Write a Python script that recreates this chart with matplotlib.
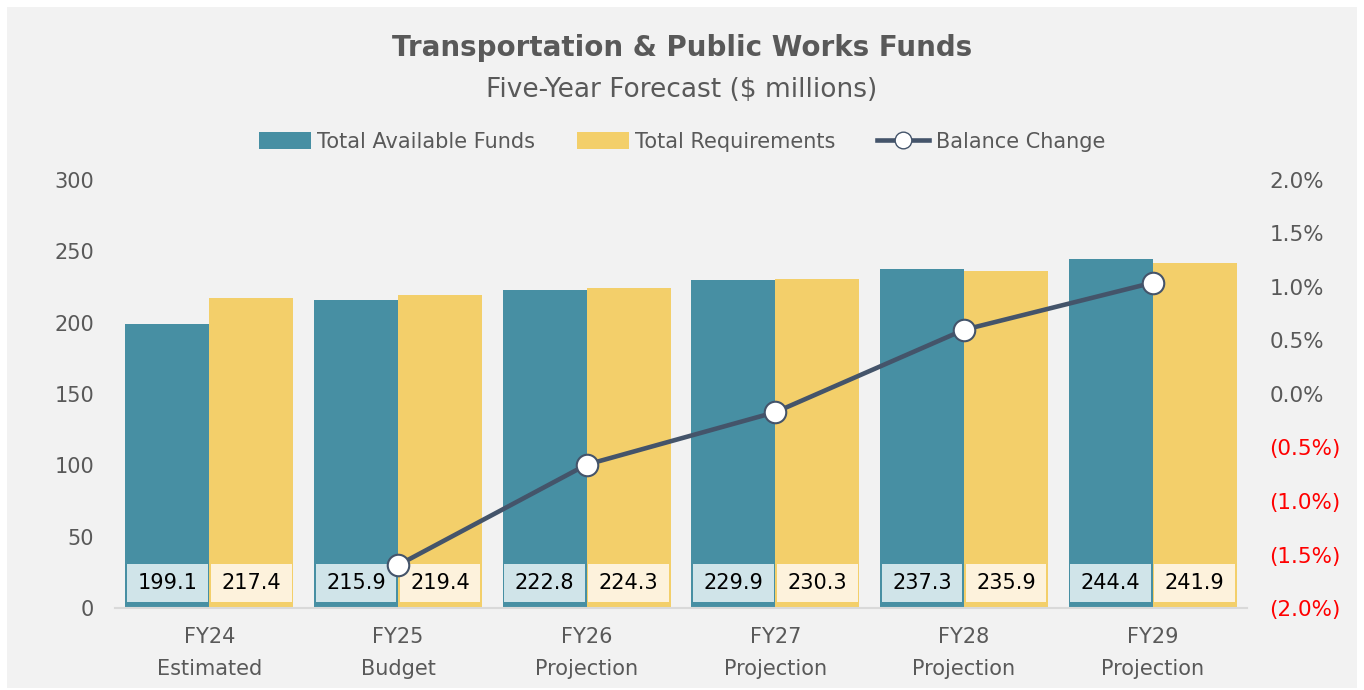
import matplotlib
matplotlib.use("Agg")
import matplotlib.pyplot as plt
import numpy as np
from matplotlib.patches import Rectangle
from matplotlib.lines import Line2D
from matplotlib.patches import Patch
from matplotlib.ticker import FuncFormatter

categories = ["FY24\nEstimated", "FY25\nBudget", "FY26\nProjection",
              "FY27\nProjection", "FY28\nProjection", "FY29\nProjection"]
available = [199.1, 215.9, 222.8, 229.9, 237.3, 244.4]
requirements = [217.4, 219.4, 224.3, 230.3, 235.9, 241.9]
balance_change = [np.nan, -1.60, -0.66, -0.17, 0.60, 1.04]  # percent

TEAL = "#478fa3"
YELLOW = "#f3cf6a"
TEAL_LIGHT = "#d0e4e9"
YELLOW_LIGHT = "#fdf2dc"
LINE = "#44546a"
GRAY = "#595959"
BG = "#f2f2f2"

plt.rcParams['font.family'] = ['DejaVu Sans']

fig = plt.figure(figsize=(13.64, 6.90), dpi=100, facecolor="white")
fig.patches.append(Rectangle((7/1364, 2/690), 1350/1364, 681/690,
                             transform=fig.transFigure, facecolor=BG,
                             edgecolor="none", zorder=-10))

ax = fig.add_axes([115/1364, 1-608/690, 1132/1364, 428/690])
ax.set_facecolor("none")
x = np.arange(len(categories))
bw = 0.445
off = bw/2
ax.bar(x-off, available, bw, color=TEAL, zorder=2)
ax.bar(x+off, requirements, bw, color=YELLOW, zorder=2)

# label boxes
box_bottom, box_top = 4.2, 30.8
ax.bar(x-off, box_top-box_bottom, bw*0.96, bottom=box_bottom, color=TEAL_LIGHT, zorder=3)
ax.bar(x+off, box_top-box_bottom, bw*0.96, bottom=box_bottom, color=YELLOW_LIGHT, zorder=3)
for i in range(len(categories)):
    ax.text(x[i]-off, (box_bottom+box_top)/2, f"{available[i]:.1f}", ha="center", va="center",
            fontsize=15, color="black", zorder=4)
    ax.text(x[i]+off, (box_bottom+box_top)/2, f"{requirements[i]:.1f}", ha="center", va="center",
            fontsize=15, color="black", zorder=4)

ax.set_xlim(-0.5, len(categories)-0.5)
ax.set_ylim(0, 300)
ax.set_yticks(np.arange(0, 301, 50))
ax.set_xticks(x)
ax.set_xticklabels(categories, fontsize=15, color=GRAY, linespacing=1.7)
ax.tick_params(axis="y", labelsize=15, colors=GRAY, length=0, pad=15)
ax.tick_params(axis="x", length=0, pad=14)
for s in ["top", "right", "left"]:
    ax.spines[s].set_visible(False)
ax.spines["bottom"].set_color("#d9d9d9")
ax.spines["bottom"].set_linewidth(1.5)

ax2 = ax.twinx()
ax2.set_ylim(-2, 2)
ax2.set_yticks(np.arange(-2, 2.01, 0.5))
def pct(v, pos):
    if v < -1e-9:
        return f"({abs(v):.1f}%)"
    return f"{abs(v):.1f}%"
ax2.yaxis.set_major_formatter(FuncFormatter(pct))
ax2.tick_params(axis="y", labelsize=15.5, length=0, pad=16)
for lab, v in zip(ax2.get_yticklabels(), np.arange(-2, 2.01, 0.5)):
    lab.set_color("#ff0000" if v < -1e-9 else GRAY)
for s in ax2.spines.values():
    s.set_visible(False)
ax2.plot(x, balance_change, color=LINE, lw=3.3, marker="o", markersize=15.5,
         markerfacecolor="white", markeredgecolor=LINE, markeredgewidth=1.5, zorder=5)

fig.text(0.5, 1-48/690, "Transportation & Public Works Funds", ha="center", va="center",
         fontsize=20, fontweight="bold", color=GRAY)
fig.text(0.5, 1-90/690, "Five-Year Forecast ($ millions)", ha="center", va="center",
         fontsize=19, color=GRAY)

handles = [Patch(facecolor=TEAL, label="Total Available Funds"),
           Patch(facecolor=YELLOW, label="Total Requirements"),
           Line2D([0], [0], color=LINE, lw=3.3, marker="o", markersize=12,
                  markerfacecolor="white", markeredgecolor=LINE, label="Balance Change")]
leg = fig.legend(handles=handles, loc="center", bbox_to_anchor=(0.5, 1-142/690), ncol=3,
                 frameon=False, fontsize=15, handlelength=2.5, handleheight=0.9,
                 handletextpad=0.3, columnspacing=2.0)
for t in leg.get_texts():
    t.set_color(GRAY)

fig.savefig("out.png", dpi=100, facecolor="white")
